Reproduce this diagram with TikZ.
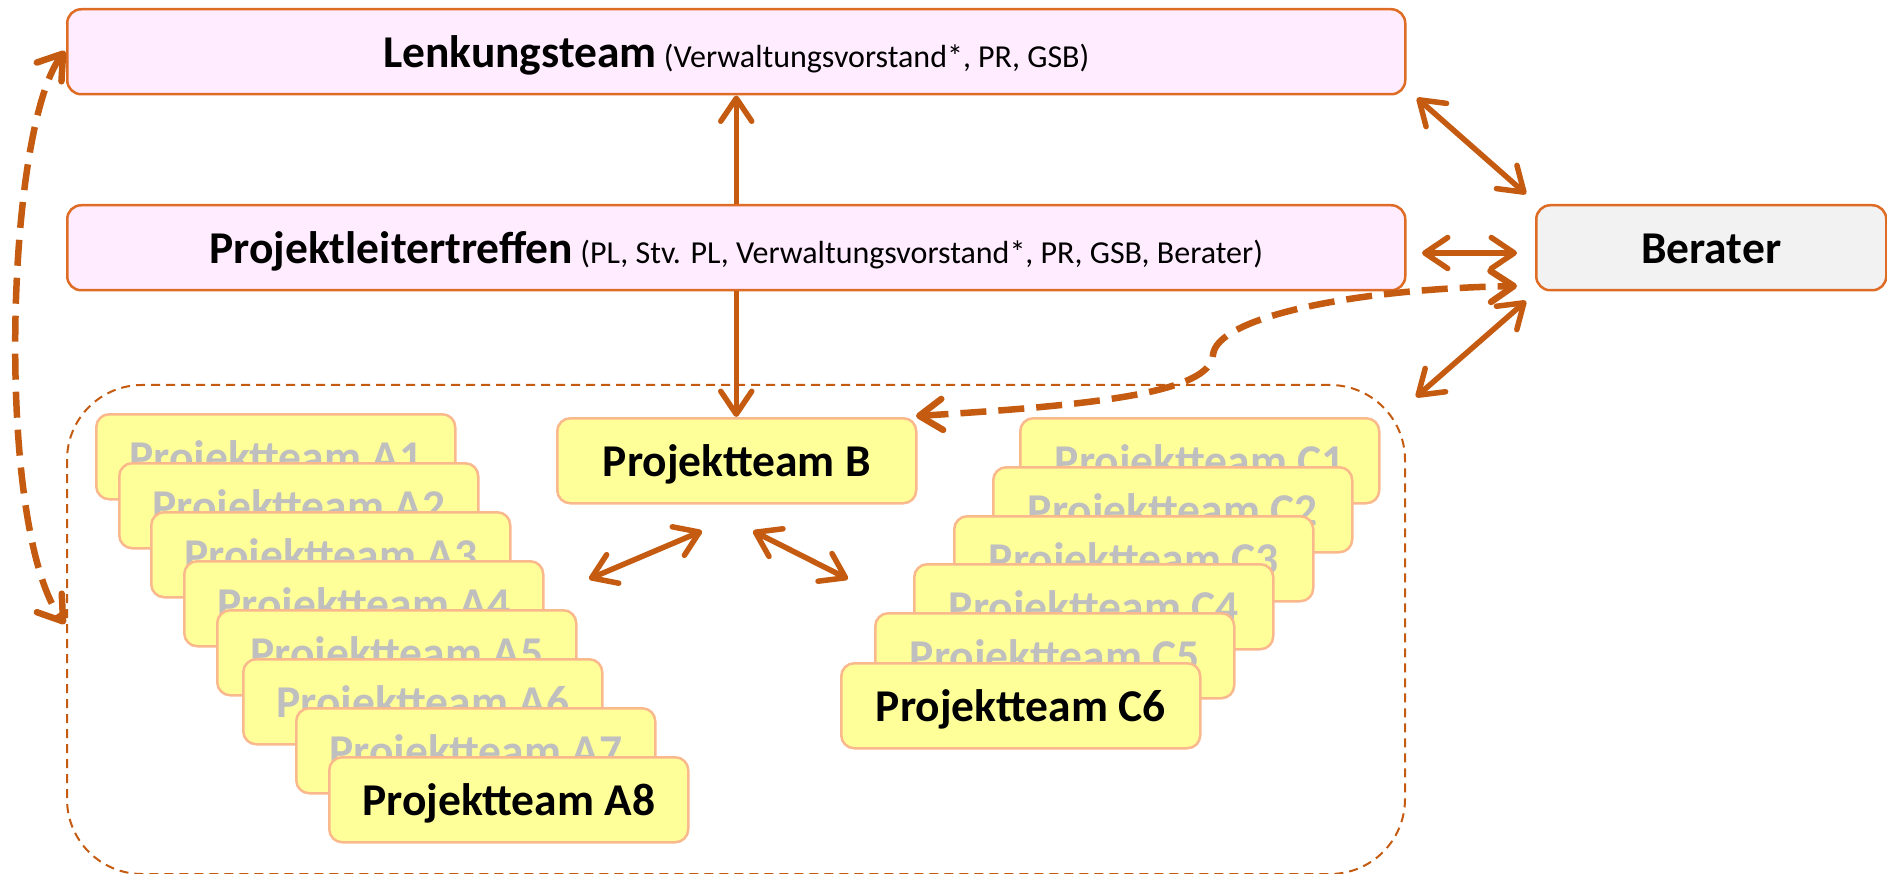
\documentclass[tikz,border=0pt]{standalone}
\usepackage{fontspec}
\setmainfont{Carlito}
\usetikzlibrary{arrows.meta}
\definecolor{arrowc}{RGB}{197,90,17}
\definecolor{boxline}{RGB}{222,108,36}
\definecolor{pinkfill}{RGB}{255,236,255}
\definecolor{grayfill}{RGB}{242,242,242}
\definecolor{yelfill}{RGB}{255,255,153}
\definecolor{yelline}{RGB}{250,185,140}
\definecolor{ghost}{RGB}{191,191,191}
\begin{document}
\begin{tikzpicture}[x=1pt,y=-1pt,
  bigtxt/.style={font=\fontsize{45.5}{54}\selectfont\bfseries},
  topbox/.style={draw=boxline, line width=2.5pt, fill=pinkfill, rounded corners=14pt,
    minimum width=1338pt, minimum height=85pt, anchor=north west, inner sep=0pt,
    text height=38pt, text depth=6pt},
  berbox/.style={topbox, fill=grayfill, minimum width=350pt, bigtxt},
  team/.style={draw=yelline, line width=2.5pt, fill=yelfill, rounded corners=13pt,
    minimum width=359pt, minimum height=85pt, anchor=north west, inner sep=0pt, bigtxt,
    text height=38pt, text depth=6pt},
  ghostteam/.style={team, text=ghost},
  conn/.style={draw=arrowc, line width=5.5pt},
  single/.style={arrows={-Straight Barb[length=23pt,width=31pt,round]}},
  dbl/.style={arrows={Straight Barb[length=23pt,width=31pt,round]-Straight Barb[length=23pt,width=31pt,round]}},
  thickdash/.style={line width=6.5pt, dash pattern=on 26pt off 12pt},
  contline/.style={draw=arrowc, line width=2pt, dash pattern=on 9pt off 6pt, rounded corners=75pt,
    minimum width=1338pt, minimum height=489pt, anchor=north west, inner sep=0pt}
]
\useasboundingbox (0,0) rectangle (1887,874);

% container
\node[contline] (cont) at (66,384) {};

% top boxes
\node[topbox] (lenk) at (66,8) {{\fontsize{45.5}{54}\selectfont\bfseries Lenkungsteam}{\fontsize{32}{38}\selectfont\ (Verwaltungsvorstand*, PR, GSB)}};
\node[topbox] (pl) at (66,204) {{\fontsize{45.5}{54}\selectfont\bfseries Projektleitertreffen}{\fontsize{32}{38}\selectfont\ (PL, Stv. PL, Verwaltungsvorstand*, PR, GSB, Berater)}};
\node[berbox] (ber) at (1535,204) {Berater};

% team B
\node[team] (B) at (556,417) {Projektteam B};

% A stack
\node[ghostteam] (A1) at (95,413) {Projektteam A1};
\node[ghostteam] (A2) at (118,462) {Projektteam A2};
\node[ghostteam] (A3) at (150,511) {Projektteam A3};
\node[ghostteam] (A4) at (183,560) {Projektteam A4};
\node[ghostteam] (A5) at (216,609) {Projektteam A5};
\node[ghostteam] (A6) at (242,658) {Projektteam A6};
\node[ghostteam] (A7) at (295,707) {Projektteam A7};
\node[team] (A8) at (328,756) {Projektteam A8};

% C stack
\node[ghostteam] (C1) at (1019,417) {Projektteam C1};
\node[ghostteam] (C2) at (992,466) {Projektteam C2};
\node[ghostteam] (C3) at (953,515) {Projektteam C3};
\node[ghostteam] (C4) at (913,563) {Projektteam C4};
\node[ghostteam] (C5) at (874,612) {Projektteam C5};
\node[team] (C6) at (840,662) {Projektteam C6};

% free connector ends
\coordinate (lb1) at (1417,98);
\coordinate (lb2) at (1526,194);
\coordinate (pb1) at (1422,253);
\coordinate (pb2) at (1517,253);
\coordinate (cb1) at (1416,397);
\coordinate (cb2) at (1526,301);
\coordinate (ba1) at (589,579);
\coordinate (ba2) at (702,531);
\coordinate (bc1) at (753,531);
\coordinate (bc2) at (848,579);
\coordinate (bd1) at (916,416);
\coordinate (bd2) at (1517,286);
\coordinate (lt) at (65,51);
\coordinate (ct) at (65,624);

% connectors
\draw[conn, single] (pl.north) -- (pl.north |- lenk.south);
\draw[conn, single] (pl.south) -- (pl.south |- B.north);
\draw[conn, dbl] (lb1) -- (lb2);
\draw[conn, dbl] (pb1) -- (pb2);
\draw[conn, dbl] (cb1) -- (cb2);
\draw[conn, dbl] (ba1) -- (ba2);
\draw[conn, dbl] (bc1) -- (bc2);
\draw[conn, thickdash, dbl] (bd1) .. controls (1100,405) and (1210,392) .. (1213,355)
   .. controls (1216,318) and (1350,289) .. (bd2);
\draw[conn, thickdash, dbl] (lt) .. controls (5,130) and (-5,530) .. (ct);
\end{tikzpicture}
\end{document}
